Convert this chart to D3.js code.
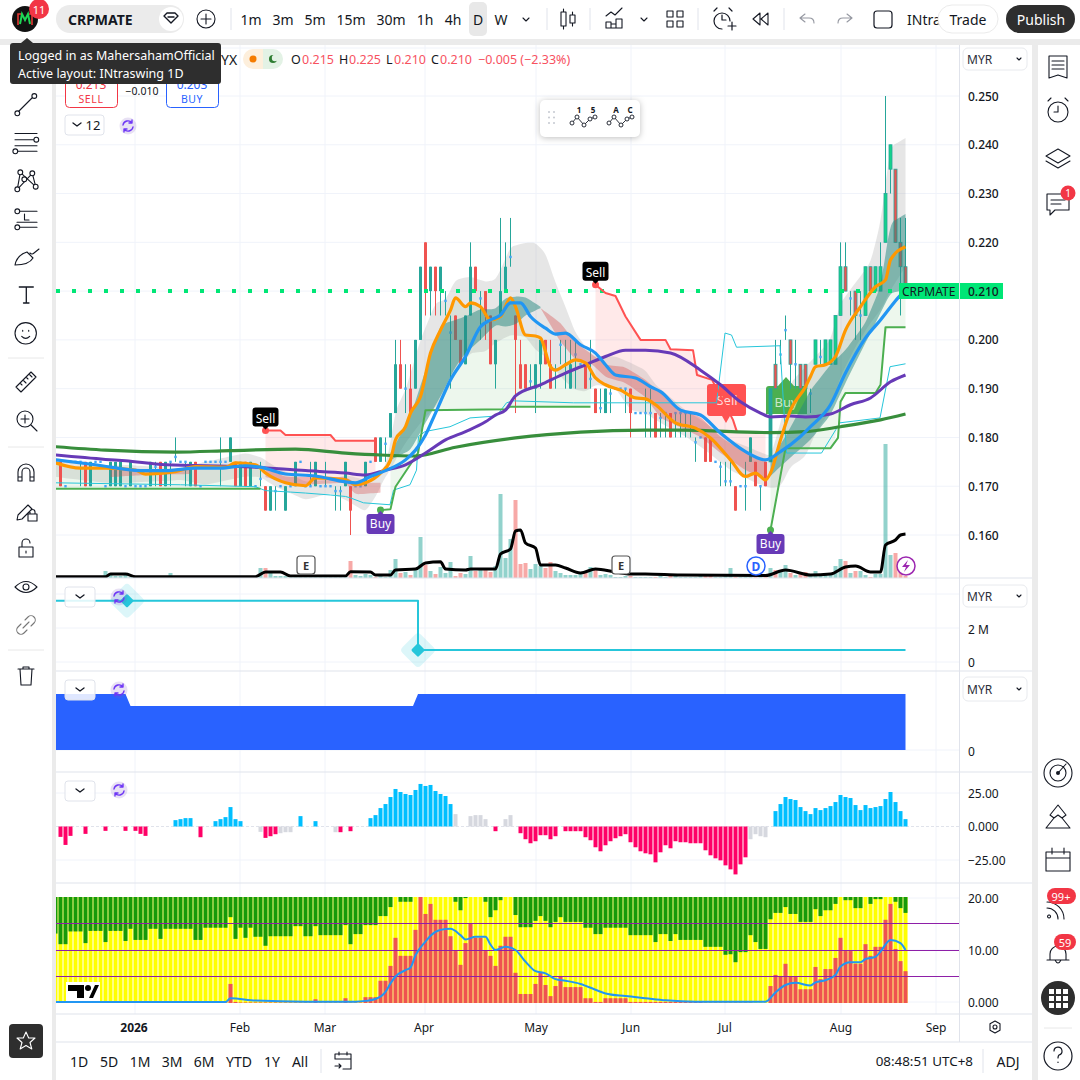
<!DOCTYPE html>
<html lang="en">
<head>
<meta charset="UTF-8">
<title>CRPMATE 1D</title>
<script src="https://d3js.org/d3.v7.min.js"></script>
<style>
  html, body { margin: 0; padding: 0; background: #fff; overflow: hidden; }
  svg { display: block; }
  text { font-family: "Noto Sans", sans-serif; fill: #131722; }
</style>
</head>
<body>
<svg id="chart" width="1080" height="1080"></svg>
<script>
// Candles, in thousandths of a ringgit, one entry per daily bar
const priceOpen = [
  175,175,170,175,175,175,175,170,175,175, 170,170,170,170,170,170,170,170,170,170,
  174,175,170,175,176,175,175,170,175,170, 175,175,175,175,175,175,175,170,175,170,
  170,171.5,170,165,169,170,165,170,170,175, 170,170,170,170,170,170,169,169,170,170,
  170,170,170,175,180,175,178.7,180,185,195, 190,190,190,200,220,210,215,210,208,201.5,
  205,200,195,205,215,208.5,210,205,195,205, 210,217,205,195,195,191.5,190,195,200,195,
  194,199,195,190,197,195,195,192,190,186, 185,189,190,190,190,190,185,185,185,185,
  185,184,185,185,185,185,185,185,179,180, 180,180,175,174,171,171,170,170,170,175,
  175,170,175,175,195,197,202,200,195,195, 195,189,195,196.5,195,195,195,205,215,208.5,
  210,205,205,215,210,210,220,235,235,220,215];
const priceClose = [
  175,170,170,175,175,175,170,175,175,175, 170,175,175,175,170,175,170,170,170,175,
  174,170,175,175,176,175,175,175,170,170, 175,175,175,175,175,180,170,175,170,175,
  170,171.5,165,170,169,170,170,170,175,175, 170,170,175,170,170,170,169,169,175,165,
  170,170,175,175,175,180,178.7,185,195,190, 190,185,200,215,210,215,210,215,208,201.5,
  200,195,205,215,210,208.5,205,195,200,210, 215,217,200,190,190,191.5,195,200,195,190,
  194,199,195,195,197,195,190,192,185,186, 190,189,190,190,190,185,185,185,185,185,
  180,184,185,180,185,185,185,185,179,180, 175,175,175,174,171,171,165,170,170,180,
  170,170,170,190,190,197,202,195,195,190, 190,189,200,196.5,200,200,205,215,210,208.5,
  205,205,215,210,215,215,230,240,220,215,210];
const priceHigh = [
  175,175,170,175,175,175,175,175,175,175, 170,175,175,175,170,175,170,170,170,175,
  175,175,175,175,180,175,175,175,175,170, 175,175,175,180,175,180,175,175,175,175,
  170,175,170,170,170,170,170,170,175,175, 170,175,175,170,175,170,170,170,175,170,
  170,170,175,175,180,180,180,185,200,200, 195,195,200,215,220,215,215,215,210,205,
  205,200,205,220,215,210,210,205,200,225, 220,225,205,200,195,195,195,200,200,200,
  195,200,200,200,200,195,195,200,190,190, 190,190,190,190,190,190,185,185,190,190,
  185,185,185,185,185,185,185,185,180,180, 180,180,175,175,175,175,170,170,175,180,
  175,170,175,190,200,200,205,200,200,195, 195,190,200,200,200,200,205,220,220,210,
  210,210,215,215,215,220,250,240,235,225,225];
const priceLow = [
  175,170,170,175,175,170,170,170,175,175, 170,170,170,170,170,170,170,170,170,170,
  170,170,170,170,175,175,170,170,170,170, 175,175,175,170,175,175,170,170,170,170,
  170,170,165,165,165,170,165,170,170,175, 170,170,170,170,170,170,165,165,170,160,
  170,170,170,175,175,175,175,180,185,190, 185,185,190,200,205,205,205,205,205,190,
  200,195,195,205,210,200,200,195,190,205, 210,215,185,190,190,190,185,190,195,190,
  190,195,190,190,190,195,190,190,185,185, 185,185,190,190,185,180,185,185,180,180,
  180,180,180,180,180,180,180,180,175,180, 175,175,175,170,170,170,165,170,165,175,
  170,165,170,175,190,195,200,190,190,190, 190,185,195,195,195,195,195,205,210,205,
  200,200,205,210,210,210,220,230,220,205,210];

// Volume histogram and its average, in the overlay's own units
const volumeBars = [
  1,1,1,1,1,0,1,1,0,1, 7,4,2,2,3,1,1,1,1,1,
  1,1,1,5,1,1,1,1,1,1, 1,1,1,1,1,1,1,1,1,1,
  1,10,10,6,2,2,2,1,1,1, 1,1,1,1,1,1,1,1,1,17,
  3,2,4,3,1,2,1,8,19,5, 6,3,9,41,13,7,4,11,5,16,
  2,5,4,22,7,8,9,6,12,84, 20,39,78,14,15,9,14,12,10,16,
  7,5,3,3,3,4,5,11,9,3, 4,3,1,1,2,2,1,1,1,1,
  1,2,1,4,2,1,1,1,1,2, 4,3,1,1,3,10,1,1,1,1,
  1,1,1,10,8,6,13,5,3,4, 6,2,7,3,3,4,12,19,17,5,
  7,7,3,1,4,4,134,23,25,14,2];
const volMaBars = [0,10,11,14,16,40,42,45,47,58,59,63,64,67,68,72,74,77,78,82,83,88,89,91,92,93,94,96,97,100,102,105,108,112,115,118,125,142,146,151,155,158,160,163,165,166,168,169,170];
const volMaVals = [1.3,1.3,4,4,1.3,1.3,6,6,2,2,6.3,6,3,3,8,9,15,16.3,9,8,9,9,24,29,47,48,35,30,13,13,10,5,9,6,4,4,3,2.5,8,3,4,11,12,6,6,33,38,43,44];

// Overlay lines on the price pane: bar numbers and prices
const emaLongBars = [0,10,24,35,48,58,65,72,80,92,105,118,125,143,150,157,165,170];
const emaLongVals = [.1781,.1774,.1770,.1773,.1776,.1768,.1764,.1762,.1780,.1799,.1811,.1815,.1815,.1810,.1812,.1822,.1836,.1848];
const emaMidBars = [0,10,14,22,38,50,58,62,66,70,74,78,82,86,88,90,92,97,102,106,110,114,118,123,129,133,137,141,143,147,150,155,159,163,167,170];
const emaMidVals = [.1764,.1755,.1752,.1744,.1740,.1732,.1727,.1723,.1733,.1744,.1768,.1795,.1812,.1832,.1846,.1856,.1885,.1908,.1932,.1949,.1966,.1979,.1979,.1973,.1938,.1908,.1873,.1850,.1842,.1844,.1842,.1848,.1867,.1881,.1914,.1928];
const blueBars = [0,8,17,22,28,33,38,41,46,52,58,60,63,66,70,72,74,76,79,82,85,87,89,91,93,95,98,100,102,105,108,110,112,116,119,121,125,129,133,138,142,145,149,151,155,158,162,165,169,170];
const blueVals = [.1754,.1744,.1732,.1732,.1737,.1737,.1742,.1739,.1725,.1721,.1709,.1707,.1720,.1732,.1754,.1774,.1805,.1850,.1918,.1966,.2027,.2041,.2051,.2076,.2076,.2048,.2024,.2012,.2014,.1990,.1973,.1949,.1928,.1922,.1904,.1894,.1856,.1846,.1809,.1771,.1754,.1771,.1802,.1822,.1867,.1932,.2004,.2041,.2092,.2102];
const orangeBars = [0,5,10,16,18,24,28,34,36,40,42,46,50,52,58,60,62,65,67,68,70,71,73,75,77,79,80,82,83,85,87,89,91,92,94,96,97,99,100,102,104,106,108,110,113,116,118,120,124,128,131,135,138,140,142,143,145,147,150,151,152,154,156,158,161,164,166,167,170];
const orangeVals = [.1748,.1737,.1737,.1733,.1725,.1730,.1740,.1739,.1748,.1744,.1727,.1707,.1701,.1717,.1713,.1703,.1707,.1727,.1754,.1795,.1822,.1850,.1884,.1973,.2020,.2061,.2086,.2068,.2076,.2068,.2041,.2048,.2086,.2068,.2010,.2008,.2004,.1945,.1938,.1949,.1959,.1953,.1922,.1908,.1897,.1881,.1879,.1867,.1830,.1819,.1799,.1754,.1720,.1727,.1713,.1727,.1795,.1856,.1904,.1925,.1945,.1949,.1966,.2020,.2068,.2109,.2123,.2164,.2191];
const thinBars = [0,25,40,42,47,50,55,58,59,61.6,66.9,67.6,70.9,72.2,72.6,73.9,78.9,82.9,88.2,90.2,91.6,103.6,132.2,133.9,135.2,136.2,144.9,146.2,153.2,156.9,164.9,166.9,170];
const thinVals = [.1707,.1703,.1699,.1691,.1688,.1686,.1682,.1679,.1676,.1666,.1662,.1692,.1703,.1733,.1802,.1812,.1822,.1840,.1844,.1871,.1875,.1871,.1871,.2014,.2010,.1985,.1988,.1768,.1768,.1830,.1840,.1945,.1951];

// Stepped stop lines
const supportABars = [0,41], supportAVals = [.1695,.1695];
const supportBBars = [65,67,68,72.5,74,90,91,107];
const supportBVals = [.1651,.1653,.1699,.1768,.1856,.1858,.1863,.1863];
const supportCBars = [143,146,155,156.5,157,158,164,165,166,170];
const supportCVals = [.1610,.1778,.1778,.1799,.1873,.1891,.1891,.1908,.2026,.2026];
const resistABars = [42,45,46,55,56,64];
const resistAVals = [.1814,.1814,.1805,.1805,.1793,.1793];
const resistBBars = [108,110,112,114,117,122,123,127.5,128.3,131.3,135.5,136.3,142.5];
const resistBVals = [.2113,.2096,.2090,.2048,.2000,.2000,.1981,.1979,.1928,.1918,.1836,.1811,.1811];

// Grey envelope
const envUpBars = [0,10,14,25,30,38,41,44,50,55,58,62,64,66,67,68,70,73,76,78,80,83,86,88,89,91,94,96,98,100,102,104,106,108,112,115,118,120,126,130,135,140,143,145,147,150,152,155,157,160,163,165,167,170];
const envUpVals = [.1758,.1740,.1744,.1737,.1750,.1768,.1760,.1740,.1709,.1713,.1723,.1713,.1721,.1740,.1789,.1856,.1897,.2000,.2076,.2082,.2123,.2130,.2119,.2123,.2143,.2191,.2199,.2199,.2178,.2117,.2068,.2014,.1986,.1966,.1966,.1953,.1938,.1908,.1856,.1830,.1795,.1774,.1761,.1830,.1912,.1945,.1966,.2000,.2076,.2117,.2158,.2240,.2396,.2414];
const envLowBars = [0,10,14,25,30,38,41,44,50,55,58,62,64,66,67,68,70,73,76,78,80,83,86,88,91,94,96,98,100,102,104,106,108,112,115,118,120,126,130,135,140,143,145,147,150,152,155,157,160,163,165,167,170];
const envLowVals = [.1719,.1707,.1707,.1713,.1703,.1720,.1719,.1699,.1672,.1686,.1672,.1648,.1678,.1720,.1733,.1754,.1789,.1830,.1863,.1887,.1932,.1973,.1976,.1994,.2010,.2007,.1979,.1966,.1938,.1914,.1897,.1894,.1908,.1901,.1856,.1850,.1836,.1802,.1774,.1733,.1707,.1696,.1699,.1740,.1761,.1809,.1856,.1925,.1986,.2035,.2061,.2102,.2150];

// Trend clouds
const tealABars = [67,71,74,77,80,82,85,88,90,92,94,97];
const tealAUp = [.1768,.1843,.1938,.2031,.2041,.2048,.2063,.2063,.2086,.2089,.2088,.2068];
const tealALow = [.1754,.1774,.1830,.1884,.1945,.1973,.2000,.2031,.2027,.2031,.2051,.2065];
const tealBBars = [143,146,151,155,158,162,165,167,170];
const tealBUp = [.1754,.1802,.1897,.1949,.1979,.2035,.2109,.2240,.2258];
const tealBLow = [.1721,.1750,.1795,.1846,.1912,.1994,.2055,.2096,.2102];
const redABars = [11,18,27];
const redAUp = [.1737,.1733,.1735], redALow = [.1719,.1723,.1725];
const redBBars = [42,46,50,58,60,65];
const redBUp = [.1737,.1719,.1719,.1719,.1707,.1707];
const redBLow = [.1719,.1707,.1703,.1707,.1683,.1687];
const redCBars = [97,101,104,107,110,114,118,121,125,129,133,138,142];
const redCUp = [.2065,.2035,.1994,.1973,.1949,.1944,.1918,.1891,.1856,.1842,.1801,.1768,.1754];
const redCLow = [.2065,.1996,.1959,.1953,.1924,.1912,.1883,.1840,.1821,.1801,.1768,.1733,.1713];

// Pane 2 and 3 step values
const stepBars = [0,72.5,72.5,170], stepVals = [3.6,3.6,0.7,0.7];
const stepDiamonds = [14.3,72.5], stepDiamondVals = [3.6,0.7];
const blueAreaBars = [0,14,15,71.5,72.5,170], blueAreaVals = [56,56,44,44,56,56];

// Momentum histogram
const momentum = [
  0,-7.75,-13.75,-7,0,0,-5.5,0,0,0, -3.25,0,0,0,-3.25,0,-3.25,-5.5,-7,0,
  0,0,0,0,4.75,5.5,6.25,6.25,0,-8, 0,0,4,5.5,7,14.5,5.5,4,0,0,
  0,-4,-8.5,-7.25,-5.75,-5,-4.25,-4.25,0,7.75, 0,0,4,0,0,0,-4.25,-4.25,0,-3.5,
  0,0,0,6.25,8.5,13.75,16.75,22,28,25.75, 24.25,23.5,27.25,31.75,30.25,31,26.5,24.25,22.75,16.75,
  9.25,0,0,7.75,8.5,8.5,5.5,0,-3.5,0, 5.5,8.5,0,-5,-9.5,-12.5,-11,-6.5,-6.5,-9.5,
  -7.25,0,-3.5,-3.5,-3.5,-3.5,-8,-10.25,-15.5,-18.5, -14,-11,-8.75,-7.25,-5.75,-11.75,-15.5,-18.5,-20,-20.75,
  -26.75,-19.25,-14,-16.25,-11,-11.75,-11.75,-12.5,-12.5,-12.5, -17.75,-21.5,-23.75,-25.25,-29,-32,-35.75,-28.25,-23,-9.5,
  -5.75,-7.25,-8,0,11.5,16.75,22,20.5,19.75,14.5, 11.5,9.25,13.75,12.25,13.75,15.25,18.25,23.5,22,21.25,
  16,12.25,16,13.75,14.5,15.25,20.5,25.75,18.25,11.5,5.5];
const momentumGrey = [41,45,46,47,56,80,83,84,85,86,90,91,139,140,141,142];

// Bottom pane: green reaches down to greenLevel, red reaches up to redLevel
const greenLevel = [
  13.1,11.1,11.1,13.5,13.5,13.5,11.3,13.6,13.6,13.6, 11.5,13.6,13.6,13.6,11.7,14,11.9,11.9,11.9,14,
  14,12.1,14,14,14,14,14,14,11.9,11.9, 14.2,14.2,14.2,14.2,14.2,16.2,12.1,14.2,12.3,14.2,
  12.5,12.5,10.8,12.6,12.6,12.6,12.6,12.6,14.5,14.5, 12.6,12.6,14.5,12.8,12.8,12.8,12.8,12.8,14.7,11.1,
  13,13,14.7,14.7,14.7,16.4,16.4,18.1,20,19.1, 19.1,19.1,20,20,20,20,20,20,20,20,
  19.1,17.5,19.8,20,20,20,19.1,16.2,17.5,19.4, 20,20,16.6,14.3,14.3,14.3,15.5,16.4,15.5,14.3,
  15.3,16.2,15.3,15.3,15.3,15.3,14.2,14.2,13,13, 14.2,14.2,14.2,14.2,14.2,12.8,12.8,12.8,12.8,12.8,
  11.5,13,13,11.7,13,11.9,11.9,11.9,11.9,11.9, 10.6,10.6,10.6,10.6,9.1,9.2,7.7,9.6,9.6,12.8,
  11.5,10.2,10.2,15.8,17,17,18.1,16.8,16.8,15.3, 15.3,15.3,17.7,16.4,17.5,17.5,18.7,20,19.4,19.4,
  17.9,17.9,20,18.7,19.6,19.6,20,20,19.1,17.9,17];
const redLevel = [
  .1,.1,.1,.1,.1,.1,.1,.1,.1,.1, .1,.1,.1,.1,.1,.1,.1,.1,.1,.1,
  .1,.1,.1,.1,.1,.1,.1,.1,.1,.1, .1,.1,.1,.1,.1,3.6,.2,.1,.1,.1,
  .1,.1,.1,.1,.1,.1,.1,.1,.1,.1, .1,.1,.7,.1,.1,.1,.1,.1,.9,.1,
  .1,.1,1.1,1.1,1.1,4.2,4.2,7,12.3,8.9, 8.9,8.9,13.8,20,16.8,18.7,15.7,15.7,15.7,12.6,
  9.8,7.2,11.3,14.9,12.3,12.3,9.8,8.9,7,10.8, 12.5,12.5,5.7,1.7,1.7,1.7,3.6,5.7,3.4,1.3,
  3.2,5.1,3,3,3,3,.9,.9,.2,.2, .9,.9,.9,.9,.9,.2,.2,.2,.2,.2,
  .2,.2,.2,.2,.2,.2,.2,.2,.2,.2, .1,.1,.1,.1,.1,.1,.1,.1,.1,.1,
  0,0,0,3.2,5.3,5.1,7.4,4.9,4.9,2.6, 2.6,2.6,6.8,4.5,6.4,6.4,8.5,12.3,9.8,9.8,
  7.4,7.4,11.1,8.9,10.6,10.6,15.7,18.7,10.2,7.9,6];
const flowBars = [0,34,35,40,50,60,62,64,66,67,68,70,71,72,74,75,77,79,81,82,84,86,87,88,90,92,94,96,98,100,102,105,108,110,114,118,122,128,142,144,146,148,151,152,154,156,157,159,161,162,164,165,167,169,170];
const flowVals = [.2,.2,.9,.45,.25,.25,.4,.75,2.1,3.7,5,6.2,6.7,9,11.6,12.7,13.8,14,12.8,12,12.5,12.5,11,10,10.6,10,7.8,6,5.6,4.5,4.2,3.6,2.5,1.8,1.3,.9,.5,.25,.25,2,3.4,3.8,3.3,3.9,4.3,5.3,6.9,7.7,7.7,8.3,8.7,9.7,11.9,11.3,10];

// Axis ticks and date labels
const priceTicks = [.25,.24,.23,.22,.21,.20,.19,.18,.17,.16];
const monthLabels = ['2026','Feb','Mar','Apr','May','Jun','Jul','Aug','Sep'];
const monthX = [134,240,325,424,536,631,725,841,936];
const intervalLabels = ['1m','3m','5m','15m','30m','1h','4h','D','W'];
const intervalX = [251,283,315,351,391,425,453,478,501];
const rangeLabels = ['1D','5D','1M','3M','6M','YTD','1Y','All'];
const rangeX = [79,109,140,172,204,239,272,300];

const svg = d3.select('#chart');
const defs = svg.append('defs');
const x = d3.scaleLinear().domain([0, 170]).range([55.5, 905.5]);
const y = d3.scaleLinear().domain([.25, .16]).range([96, 535]);
const yVol = d3.scaleLinear().domain([0, 150]).range([578, 428]);
const yStep = d3.scaleLinear().domain([0, 2]).range([662, 628]);
const yArea = d3.scaleLinear().domain([0, 56]).range([750, 694]);
const yMom = d3.scaleLinear().domain([25, -25]).range([793, 860]);
const yFlow = d3.scaleLinear().domain([0, 20]).range([1003, 897]);
const bars = d3.range(171);

// panes are clipped to the plot rectangle
function pane(id, top, bottom) {
  defs.append('clipPath').attr('id', id).append('rect')
    .attr('x', 56).attr('y', top).attr('width', 903).attr('height', bottom - top);
  return svg.append('g').attr('clip-path', `url(#${id})`);
}
const lerp = (idx, vals) => d3.scaleLinear().domain(idx).range(vals);
function band(g, from, to, upper, lower, color, opacity) {
  g.append('path').datum(d3.range(from, to + 1))
    .attr('d', d3.area().x(i => x(i)).y0(i => y(lower(i))).y1(i => y(upper(i))).curve(d3.curveBasis))
    .attr('fill', color).attr('opacity', opacity);
}
function plotLine(g, idx, vals, scale, color, width, curve) {
  g.append('path').datum(idx)
    .attr('d', d3.line().x(d => x(d)).y((d, k) => scale(vals[k])).curve(curve || d3.curveLinear))
    .attr('fill', 'none').attr('stroke', color).attr('stroke-width', width)
    .attr('stroke-linejoin', 'round');
}
function label(txt, px, py, size, anchor, color, weight, parent) {
  return (parent || svg).append('text').attr('x', px).attr('y', py)
    .attr('font-size', size).attr('text-anchor', anchor || 'start')
    .attr('dominant-baseline', 'central').attr('font-weight', weight || 400)
    .style('fill', color || '#131722').text(txt);
}
function icon(px, py, d, opts) {
  opts = opts || {};
  svg.append('path').attr('transform', `translate(${px},${py})`).attr('d', d)
    .attr('fill', opts.fill || 'none').attr('stroke', opts.stroke || '#131722')
    .attr('stroke-width', opts.width || 1.1).attr('stroke-linecap', 'round').attr('stroke-linejoin', 'round');
}
function node(px, py) {
  svg.append('circle').attr('cx', px).attr('cy', py).attr('r', 2.4)
    .attr('fill', '#fff').attr('stroke', '#131722').attr('stroke-width', 1.1);
}

// ---- backgrounds and grids
svg.append('rect').attr('width', 1080).attr('height', 1080).attr('fill', '#fff');
const gridY = [48].concat(priceTicks.map(y), [594, 628, 662, 750, 793, 860, 898, 950, 1002]);
svg.append('g').selectAll('line').data(gridY).join('line')
  .attr('x1', 56).attr('x2', 959).attr('y1', d => d).attr('y2', d => d)
  .attr('stroke', '#f0f3fa').attr('stroke-width', 1);
svg.append('g').selectAll('line').data([135,240,325,425,536,631,725,841,936]).join('line')
  .attr('x1', d => d).attr('x2', d => d).attr('y1', 45).attr('y2', 1014)
  .attr('stroke', '#f0f3fa').attr('stroke-width', 1);

// ---- price pane
const main = pane('clipMain', 45, 578);
const orangeAt = lerp(orangeBars, orangeVals);
const supportAAt = lerp(supportABars, supportAVals);
const supportBAt = lerp(supportBBars, supportBVals);
const supportCAt = lerp(supportCBars, supportCVals);
band(main, 0, 41, orangeAt, supportAAt, '#4caf50', .1);
band(main, 67, 107, orangeAt, supportBAt, '#4caf50', .1);
band(main, 143, 170, orangeAt, supportCAt, '#4caf50', .1);
const resistAAt = lerp(resistABars, resistAVals);
const resistBAt = lerp(resistBBars, resistBVals);
band(main, 42, 64, resistAAt, orangeAt, '#ff5252', .13);
band(main, 108, 142, resistBAt, orangeAt, '#ff5252', .13);
band(main, 0, 170, lerp(envUpBars, envUpVals), lerp(envLowBars, envLowVals), '#9e9e9e', .26);

main.append('g').selectAll('rect').data(bars).join('rect')
  .attr('x', i => x(i) - 2).attr('width', 4)
  .attr('y', i => yVol(volumeBars[i]))
  .attr('height', i => yVol(0) - yVol(volumeBars[i]))
  .attr('fill', i => priceClose[i] < priceOpen[i] ? '#ef5350' : '#26a69a')
  .attr('opacity', .5);

// large signal flags sit under the candles and lines
main.append('path').attr('d', 'M707 387q0 -3 3 -3h33q3 0 3 3v26q0 3 -3 3h-13l-4 7l-4 -7h-12q-3 0 -3 -3z').attr('fill', '#ff5252');
label('Sell', 727, 400, 13, 'middle', '#ffd9d9', 400, main);
main.append('path').attr('d', 'M766 389q0 -3 3 -3h9l8 -9l8 9h10q3 0 3 3v25h-41z').attr('fill', '#4caf50');
label('Buy', 786, 402, 13, 'middle', '#c9e8cb', 400, main);

const upColor = '#26a69a', downColor = '#ef5350', dojiColor = '#42a5f5';
const candles = main.append('g');
candles.selectAll('line').data(bars.filter(i => priceHigh[i] > priceLow[i])).join('line')
  .attr('x1', i => x(i)).attr('x2', i => x(i))
  .attr('y1', i => y(priceHigh[i] / 1000)).attr('y2', i => y(priceLow[i] / 1000))
  .attr('stroke', i => (i < 143 && priceClose[i] < priceOpen[i]) ? downColor : upColor);
candles.selectAll('rect.body').data(bars.filter(i => priceClose[i] !== priceOpen[i])).join('rect')
  .attr('class', 'body').attr('x', i => x(i) - 1.5).attr('width', 3)
  .attr('y', i => y(Math.max(priceOpen[i], priceClose[i]) / 1000))
  .attr('height', i => Math.abs(y(priceOpen[i] / 1000) - y(priceClose[i] / 1000)))
  .attr('fill', i => priceClose[i] < priceOpen[i] ? downColor : (i >= 144 ? '#14d28a' : upColor))
  .attr('stroke', i => i >= 143 ? upColor : 'none')
  .attr('stroke-width', .8);
candles.selectAll('rect.doji').data(bars.filter(i => priceClose[i] === priceOpen[i])).join('rect')
  .attr('class', 'doji').attr('x', i => x(i) - 1.2).attr('width', 2.4).attr('height', 2.4)
  .attr('y', i => y(priceOpen[i] / 1000) - 1.2).attr('fill', dojiColor);

band(main, 67, 97, lerp(tealABars, tealAUp), lerp(tealABars, tealALow), '#26877f', .5);
band(main, 143, 170, lerp(tealBBars, tealBUp), lerp(tealBBars, tealBLow), '#26877f', .5);
band(main, 11, 27, lerp(redABars, redAUp), lerp(redABars, redALow), '#d85050', .35);
band(main, 42, 65, lerp(redBBars, redBUp), lerp(redBBars, redBLow), '#d85050', .35);
band(main, 97, 142, lerp(redCBars, redCUp), lerp(redCBars, redCLow), '#d85050', .38);

// dotted last-price line
main.append('line').attr('x1', 56).attr('x2', 959).attr('y1', y(.21)).attr('y2', y(.21))
  .attr('stroke', '#00e676').attr('stroke-width', 4).attr('stroke-dasharray', '4 12');

plotLine(main, thinBars, thinVals, y, '#26c6da', 1);
plotLine(main, supportABars, supportAVals, y, '#4caf50', 2);
plotLine(main, supportBBars, supportBVals, y, '#4caf50', 2);
plotLine(main, supportCBars, supportCVals, y, '#4caf50', 2);
plotLine(main, resistABars, resistAVals, y, '#ff5252', 2);
plotLine(main, resistBBars, resistBVals, y, '#ff5252', 2);
plotLine(main, emaLongBars, emaLongVals, y, '#388e3c', 3.2, d3.curveMonotoneX);
plotLine(main, emaMidBars, emaMidVals, y, '#673ab7', 3, d3.curveMonotoneX);
plotLine(main, orangeBars, orangeVals, y, '#ff9800', 3.2, d3.curveMonotoneX);
plotLine(main, blueBars, blueVals, y, '#2196f3', 3.2, d3.curveMonotoneX);
plotLine(main, volMaBars, volMaVals, yVol, '#000', 3, d3.curveMonotoneX);

// signal markers
const sellBars = [42, 108], sellVals = [.1814, .2113];
const buyBars = [65, 143], buyVals = [.1651, .1610];
sellBars.forEach((b, k) => {
  const px = x(b), py = y(sellVals[k]);
  main.append('circle').attr('cx', px).attr('cy', py).attr('r', 3.5).attr('fill', '#ff5252');
  main.append('path').attr('d', `M${px - 13} ${py - 20}q0 -3 3 -3h20q3 0 3 3v13q0 3 -3 3h-7l-3 3l-3 -3h-7q-3 0 -3 -3z`).attr('fill', '#000');
  label('Sell', px, py - 12, 12, 'middle', '#fff', 400, main);
});
buyBars.forEach((b, k) => {
  const px = x(b), py = y(buyVals[k]);
  main.append('circle').attr('cx', px).attr('cy', py).attr('r', 3.5).attr('fill', '#4caf50');
  main.append('path').attr('d', `M${px - 14} ${py + 7}q0 -3 3 -3h8l3 -3l3 3h8q3 0 3 3v14q0 3 -3 3h-22q-3 0 -3 -3z`).attr('fill', '#673ab7');
  label('Buy', px, py + 13, 12, 'middle', '#fff', 400, main);
});

// earnings / dividend / lightning badges
[[306, 'E'], [621, 'E']].forEach(([px, t]) => {
  svg.append('rect').attr('x', px - 9).attr('y', 556).attr('width', 18).attr('height', 18).attr('rx', 3)
    .attr('fill', '#fff').attr('stroke', '#555').attr('stroke-width', 1.2);
  label(t, px, 565, 11, 'middle', '#333', 700);
});
svg.append('circle').attr('cx', 756).attr('cy', 566).attr('r', 9).attr('fill', '#fff').attr('stroke', '#2962ff').attr('stroke-width', 1.5);
label('D', 756, 566, 12, 'middle', '#2962ff', 700);
svg.append('circle').attr('cx', 906).attr('cy', 566).attr('r', 9).attr('fill', '#fff').attr('stroke', '#9c27b0').attr('stroke-width', 1.5);
svg.append('path').attr('d', 'M908 560l-6 7h4l-2 5l6 -7h-4z').attr('fill', '#9c27b0');

// ---- step pane
const stepPane = pane('clipStep', 579, 670);
plotLine(stepPane, stepBars, stepVals, yStep, '#26c6da', 2);
stepDiamonds.forEach((b, k) => {
  const px = x(b), py = yStep(stepDiamondVals[k]);
  stepPane.append('rect').attr('x', px - 13).attr('y', py - 13).attr('width', 26).attr('height', 26).attr('rx', 4)
    .attr('transform', `rotate(45 ${px} ${py})`).attr('fill', '#26c6da').attr('opacity', .16);
  stepPane.append('rect').attr('x', px - 5).attr('y', py - 5).attr('width', 10).attr('height', 10).attr('rx', 1.5)
    .attr('transform', `rotate(45 ${px} ${py})`).attr('fill', '#26c6da');
});

// ---- blue area pane
const areaPane = pane('clipArea', 671, 772);
areaPane.append('path').datum(blueAreaBars)
  .attr('d', d3.area().x(d => x(d)).y0(yArea(0)).y1((d, k) => yArea(blueAreaVals[k])))
  .attr('fill', '#2962ff');

// ---- momentum pane
const momPane = pane('clipMom', 773, 883);
momPane.append('line').attr('x1', 56).attr('x2', 959).attr('y1', yMom(0)).attr('y2', yMom(0))
  .attr('stroke', '#e0e3eb').attr('stroke-dasharray', '3 2');
momPane.append('g').selectAll('rect').data(bars.filter(i => momentum[i] !== 0)).join('rect')
  .attr('x', i => x(i) - 2).attr('width', 4)
  .attr('y', i => Math.min(yMom(0), yMom(momentum[i])))
  .attr('height', i => Math.abs(yMom(momentum[i]) - yMom(0)))
  .attr('fill', i => momentumGrey.includes(i) ? '#d6d8df' : (momentum[i] > 0 ? '#00bfff' : '#ff0066'));

// ---- bottom stacked pane
const flowPane = pane('clipFlow', 884, 1014);
const flowBarsG = flowPane.append('g');
flowBarsG.selectAll('rect.y').data(bars).join('rect').attr('class', 'y')
  .attr('x', i => x(i) - 2).attr('width', 4)
  .attr('y', yFlow(20)).attr('height', yFlow(0) - yFlow(20)).attr('fill', '#ffff00');
flowBarsG.selectAll('rect.g').data(bars).join('rect').attr('class', 'g')
  .attr('x', i => x(i) - 2).attr('width', 4)
  .attr('y', yFlow(20)).attr('height', i => yFlow(greenLevel[i]) - yFlow(20)).attr('fill', '#169a09');
flowBarsG.selectAll('rect.r').data(bars).join('rect').attr('class', 'r')
  .attr('x', i => x(i) - 2).attr('width', 4)
  .attr('y', i => yFlow(redLevel[i])).attr('height', i => yFlow(0) - yFlow(redLevel[i])).attr('fill', '#ef5350');
flowPane.append('g').selectAll('line').data([15, 10, 5]).join('line')
  .attr('x1', 56).attr('x2', 959)
  .attr('y1', d => Math.floor(yFlow(d)) + .5).attr('y2', d => Math.floor(yFlow(d)) + .5)
  .attr('stroke', '#8e1fa8').attr('stroke-width', 1);
plotLine(flowPane, flowBars, flowVals, yFlow, '#2196f3', 2, d3.curveMonotoneX);
// TradingView mark
svg.append('rect').attr('x', 66).attr('y', 982).attr('width', 34).attr('height', 19).attr('fill', '#fff');
svg.append('path').attr('d', 'M68 985h16v13h-7v-7h-9z M89 998l6 -13h4l-6 13z').attr('fill', '#000');
svg.append('circle').attr('cx', 88).attr('cy', 988).attr('r', 3).attr('fill', '#000');

// ---- price scale and labels
svg.append('rect').attr('x', 960).attr('y', 45).attr('width', 72).attr('height', 970).attr('fill', '#fff');
priceTicks.forEach(t => label(t.toFixed(3), 968, y(t), 12, 'start', '#131722', 500));
[[ '2 M', 629 ], ['0', 662], ['0', 751], ['25.00', 793], ['0.000', 826], ['\u221225.00', 860], ['20.00', 898], ['10.00', 950], ['0.000', 1002]]
  .forEach(d => label(d[0], 968, d[1], 12, 'start', '#131722', 400));
[[48, 70], [585, 607], [677, 701]].forEach(([a, b]) => {
  svg.append('rect').attr('x', 963).attr('y', a).attr('width', 64).attr('height', b - a).attr('rx', 5)
    .attr('fill', '#fff').attr('stroke', '#e8eaee');
  label('MYR', 967, (a + b) / 2 + 0.5, 12, 'start', '#2a2e39');
  icon(1019, (a + b) / 2, 'M-2 -1l2 2l2 -2');
});
svg.append('rect').attr('x', 899).attr('y', 283).attr('width', 61).attr('height', 16).attr('fill', '#00e676');
label('CRPMATE', 902, 291, 12, 'start', '#131722');
svg.append('rect').attr('x', 960).attr('y', 283).attr('width', 43).attr('height', 16).attr('fill', '#00e676');
label('0.210', 968, 291, 12, 'start', '#131722', 500);

// ---- chrome: gutters, pane separators
[[0, 39, 1080, 6], [52, 39, 4, 1041], [1032, 39, 6, 1041]].forEach(r =>
  svg.append('rect').attr('x', r[0]).attr('y', r[1]).attr('width', r[2]).attr('height', r[3]).attr('fill', '#ebebeb'));
[578, 671, 772, 883, 1014, 1042].forEach(py =>
  svg.append('line').attr('x1', 56).attr('x2', 1032).attr('y1', py).attr('y2', py).attr('stroke', '#e0e3eb').attr('stroke-width', 1.2));
svg.append('line').attr('x1', 959.5).attr('x2', 959.5).attr('y1', 45).attr('y2', 1042).attr('stroke', '#e0e3eb');

// ---- time axis and bottom bar
monthLabels.forEach((m, k) => label(m, monthX[k], 1027, 12, 'middle', '#131722', k === 0 ? 700 : 400));
icon(995, 1027, 'M0 -6l5 2.8v6.4l-5 2.8l-5 -2.8v-6.4z M2 0a2 2 0 1 0 -4 0a2 2 0 1 0 4 0');
rangeLabels.forEach((m, k) => label(m, rangeX[k], 1061, 14, 'middle', '#131722'));
label('08:48:51 UTC+8', 973, 1061, 13.4, 'end', '#131722');
label('ADJ', 1008, 1061, 14, 'middle', '#131722');
[[321, 1049, 1073], [983, 1049, 1073]].forEach(l =>
  svg.append('line').attr('x1', l[0]).attr('x2', l[0]).attr('y1', l[1]).attr('y2', l[2]).attr('stroke', '#e0e3eb'));
icon(343, 1061, 'M-8 -7h16v15h-8 M-8 -7v5h16 M-4 -9v3 M4 -9v3 M-8 5h6 M-4 3l2 2l-2 2');

// ---- top toolbar
svg.append('circle').attr('cx', 25).attr('cy', 19).attr('r', 13).attr('fill', '#111');
svg.append('path').attr('d', 'M18 25v-11l3 0 M32 25v-11l-3 0').attr('stroke', '#e53935').attr('stroke-width', 1.6).attr('fill', 'none');
svg.append('path').attr('d', 'M20 24l2 -10l3 6l3 -6l2 10').attr('stroke', '#1fd655').attr('stroke-width', 2).attr('fill', 'none');
svg.append('circle').attr('cx', 39).attr('cy', 9).attr('r', 10).attr('fill', '#f23645');
label('11', 39, 9, 11, 'middle', '#fff');
svg.append('rect').attr('x', 56).attr('y', 5).attr('width', 128).attr('height', 28).attr('rx', 14).attr('fill', '#ebebeb');
label('CRPMATE', 68, 19, 14, 'start', '#131722', 700);
svg.append('circle').attr('cx', 171).attr('cy', 19).attr('r', 12).attr('fill', '#fff');
icon(171, 19, 'M-7 -3l3 -3h8l3 3l-7 7z M-3 -2h6', { width: 1.4 });
svg.append('circle').attr('cx', 206).attr('cy', 19).attr('r', 9).attr('fill', 'none').attr('stroke', '#131722').attr('stroke-width', 1.1);
icon(206, 19, 'M-5 0h10M0 -5v10');
[231, 547, 590, 698, 784].forEach(px =>
  svg.append('line').attr('x1', px).attr('x2', px).attr('y1', 8).attr('y2', 30).attr('stroke', '#e0e3eb'));
svg.append('rect').attr('x', 469).attr('y', 2).attr('width', 18).attr('height', 34).attr('rx', 5).attr('fill', '#e8e8e8');
intervalLabels.forEach((m, k) => label(m, intervalX[k], 19, 14, 'middle', '#131722'));
icon(526, 19, 'M-3 -1l3 3l3 -3');
icon(568, 19, 'M-7 -7h5v14h-5z M-4.5 -10v3 M-4.5 7v3 M2 -4h5v8h-5z M4.5 -7v3 M4.5 4v3');
icon(614, 19, 'M-8 9v-6h5v6 M-3 9v-4h5v4 M2 9v-9h6v9 M-8 9h16 M-8 -3l5 -4l4 3l7 -7');
icon(644, 19, 'M-3 -1l3 3l3 -3');
icon(675, 19, 'M-8 -8h6v6h-6z M2 -8h6v6h-6z M-8 2h6v6h-6z M2 2h6v6h-6z');
icon(723, 19, 'M7 2a8 8 0 1 0 -8 8 M-1 -4v5h4 M-9 -8l3 -3 M9 -8l-3 -3 M5 7h8 M9 3v8', { width: 1.2 });
icon(760, 19, 'M0 -6l-7 6l7 6z M8 -6l-7 6l7 6z');
icon(807, 19, 'M-2 -5l-5 4l5 4 M-7 -1h9q5 0 5 5', { stroke: '#9598a1' });
icon(845, 19, 'M2 -5l5 4l-5 4 M7 -1h-9q-5 0 -5 5', { stroke: '#9598a1' });
svg.append('rect').attr('x', 874).attr('y', 11).attr('width', 18).attr('height', 17).attr('rx', 3).attr('fill', 'none').attr('stroke', '#131722').attr('stroke-width', 1.2);
label('INtra', 907, 19, 14, 'start', '#131722');
svg.append('rect').attr('x', 938).attr('y', 5).attr('width', 60).attr('height', 28).attr('rx', 14).attr('fill', '#fff').attr('stroke', '#ebebeb');
label('Trade', 968, 19, 14, 'middle', '#131722');
svg.append('rect').attr('x', 1006).attr('y', 5).attr('width', 69).attr('height', 28).attr('rx', 14).attr('fill', '#2e2e2e');
label('Publish', 1041, 19, 14, 'middle', '#fff');

// ---- legend row
label('YX', 221, 59, 14, 'start', '#131722');
svg.append('path').attr('d', 'M263 49h-10a10 10 0 0 0 0 20h10z').attr('fill', '#fdefdc');
svg.append('path').attr('d', 'M263 49h10a10 10 0 0 1 0 20h-10z').attr('fill', '#e3f2e5');
svg.append('circle').attr('cx', 253).attr('cy', 59).attr('r', 3.5).attr('fill', '#f57c00');
svg.append('circle').attr('cx', 273).attr('cy', 59).attr('r', 4).attr('fill', '#2e7d32');
svg.append('circle').attr('cx', 275).attr('cy', 58).attr('r', 3.2).attr('fill', '#e3f2e5');
const legendParts = [['O', '#131722', 291], ['0.215', '#f7525f', 302], ['H', '#131722', 339], ['0.225', '#f7525f', 349], ['L', '#131722', 386], ['0.210', '#f7525f', 394], ['C', '#131722', 431], ['0.210', '#f7525f', 440]];
legendParts.forEach(p => label(p[0], p[2], 59, 12.5, 'start', p[1]));
label('\u22120.005 (\u22122.33%)', 478, 59, 12.5, 'start', '#f7525f');

// ---- buy/sell buttons and pane controls
svg.append('rect').attr('x', 65.5).attr('y', 78).attr('width', 52).attr('height', 29.5).attr('rx', 4).attr('fill', '#fff').attr('stroke', '#f23645');
label('0.213', 91, 84, 12, 'middle', '#f23645');
label('SELL', 91, 98.5, 10.5, 'middle', '#f23645').attr('letter-spacing', .6);
label('\u22120.010', 142, 91, 10.5, 'middle', '#131722');
svg.append('rect').attr('x', 166.5).attr('y', 78).attr('width', 52).attr('height', 29.5).attr('rx', 4).attr('fill', '#fff').attr('stroke', '#2962ff');
label('0.203', 192, 84, 12, 'middle', '#2962ff');
label('BUY', 192, 98.5, 10.5, 'middle', '#2962ff').attr('letter-spacing', .6);

function syncIcon(px, py) {
  svg.append('circle').attr('cx', px).attr('cy', py).attr('r', 8.5).attr('fill', '#7e57c2').attr('opacity', .18);
  icon(px, py, 'M-5 -1a5 5 0 0 1 9 -2 M5 1a5 5 0 0 1 -9 2 M4 -6v3h-3 M-4 6v-3h3', { stroke: '#6e36f5', width: 1.4 });
}
function collapseButton(px, py) {
  svg.append('rect').attr('x', px).attr('y', py).attr('width', 30).attr('height', 20).attr('rx', 3)
    .attr('fill', '#fff').attr('fill-opacity', .85).attr('stroke', '#e0e3eb');
  icon(px + 15, py + 10, 'M-4 -2l4 3l4 -3', { width: 1.3 });
}
svg.append('rect').attr('x', 65).attr('y', 115).attr('width', 39).attr('height', 20).attr('rx', 3).attr('fill', '#fff').attr('stroke', '#e0e3eb');
icon(77, 125, 'M-4 -2l4 3l4 -3', { width: 1.3 });
label('12', 93, 125, 13, 'middle', '#131722');
syncIcon(128, 126);
collapseButton(65, 587); syncIcon(119, 597);
collapseButton(65, 680); syncIcon(119, 690);
collapseButton(65, 781); syncIcon(119, 790);

// ---- wave tool widget
svg.append('rect').attr('x', 540).attr('y', 100).attr('width', 100).attr('height', 37).attr('rx', 5)
  .attr('fill', '#fff').style('filter', 'drop-shadow(0 1px 3px rgba(0,0,0,.25))');
svg.append('g').selectAll('circle').data([0, 1, 2, 3, 4, 5]).join('circle')
  .attr('cx', d => 549 + (d % 2) * 5).attr('cy', d => 112 + Math.floor(d / 2) * 5.5).attr('r', 1).attr('fill', '#c5c8d0');
[[570, '1', '5'], [607, 'A', 'C']].forEach(([px, a, b]) => {
  icon(px, 120, 'M2 3l5 -6l7 8l6 -6l5 -2', { width: .9 });
  [[2, 3], [7, -3], [14, 5], [20, -1], [25, -3]].forEach(p =>
    svg.append('circle').attr('cx', px + p[0]).attr('cy', 120 + p[1]).attr('r', 2).attr('fill', '#fff').attr('stroke', '#131722').attr('stroke-width', .9));
  label(a, px + 9, 109, 8, 'middle', '#131722', 700);
  label(b, px + 23, 109, 8, 'middle', '#131722', 700);
});

// ---- left toolbar
icon(0, 0, 'M17 113L34 96');
node(17.3, 113.3); node(34.3, 96);
icon(0, 0, 'M15 133.5H37 M15 139.7H34 M15 145.7H37 M18 151.3H37');
node(36.3, 139.7); node(15.3, 151.3);
icon(0, 0, 'M17.3 189.3L20.3 172.3L35.7 186.7L32.3 173.3L17.3 189.3');
[[20.3, 172.3], [32.3, 173.3], [24.3, 179.3], [17.3, 189.3], [35.7, 186.7]].forEach(p => node(p[0], p[1]));
icon(0, 0, 'M20 211.3H37 M17 222.3H37 M20 227.3H37 M24.5 214v6h4.5');
node(17.3, 211.3); node(17.3, 227.3);
icon(0, 0, 'M15 265q2 -10 12 -13l6 6q-4 7 -18 7z M30 253q2 2 4 0l5 -4', { width: 1.1 });
icon(0, 0, 'M19.3 287H33.3 M26.3 287V303 M23.5 303H29', { width: 1.3 });
icon(25.7, 333.3, 'M10.7 0a10.7 10.7 0 1 0 -21.4 0a10.7 10.7 0 1 0 21.4 0 M-4 3q4 4 8 0 M-3 -3v1 M3 -3v1');
icon(26, 382, 'M-10 5l15 -15l5 5l-15 15z M-6 1l2 2 M-3 -2l3 3 M0 -5l2 2 M3 -8l3 3');
icon(26, 421, 'M7 -2a8 8 0 1 0 -16 0a8 8 0 1 0 16 0 M5 4l6 6 M-5 -2h8 M-1 -6v8');
icon(26, 473, 'M-8 8v-9a8 8 0 0 1 16 0v9h-4v-9a4 4 0 0 0 -8 0v9z M-8 4h4 M4 4h4');
icon(26, 511, 'M-9 9l1 -5l10 -10l4 4l-10 10z M2 3h9v7h-9z M4 3v-2a2.5 2.5 0 0 1 5 0v2');
icon(26, 548, 'M-7 -1h14v10h-14z M-4 -1v-4a4 4 0 0 1 8 0 M0 3v2');
icon(26, 587, 'M-11 0q11 -11 22 0q-11 11 -22 0z M3 0a3 3 0 1 0 -6 0a3 3 0 1 0 6 0');
icon(26, 625, 'M-3 3l6 -6 M-1 -5l3 -3a4 4 0 0 1 6 6l-3 3 M1 5l-3 3a4 4 0 0 1 -6 -6l3 -3', { stroke: '#777' });
icon(26, 676, 'M-8 -7h16 M-6 -7l1 16h10l1 -16 M-3 -7v-2h6v2');
[[8, 44, 358], [8, 44, 447], [8, 44, 650]].forEach(l =>
  svg.append('line').attr('x1', l[0]).attr('x2', l[1]).attr('y1', l[2]).attr('y2', l[2]).attr('stroke', '#e8e8e8'));
svg.append('rect').attr('x', 9).attr('y', 1024).attr('width', 34).attr('height', 34).attr('rx', 4).attr('fill', '#2e2e2e');
icon(26, 1041, 'M0 -9l2.7 6h6.3l-5 4.5l1.8 6.5l-5.8 -3.5l-5.8 3.5l1.8 -6.5l-5 -4.5h6.3z', { stroke: '#fff' });

// ---- right toolbar
icon(1058, 67, 'M-9 -11h18v22l-9 -3l-9 3z M-6 -6h12 M-6 -2h12 M-6 2h12');
icon(1058, 111, 'M10 1a10 10 0 1 0 -20 0a10 10 0 1 0 20 0 M0 -5v6h-4 M-10 -10l3 -3 M10 -10l-3 -3');
icon(1058, 158, 'M-12 -2l12 -7l12 7l-12 7z M-12 3l12 7l12 -7');
icon(1058, 204, 'M-11 -10h22v16h-14l-5 5v-5h-3z M-7 -4h14 M-7 0h10');
svg.append('circle').attr('cx', 1068).attr('cy', 193).attr('r', 7.5).attr('fill', '#f23645');
label('1', 1068, 193, 10, 'middle', '#fff');
icon(1058, 773, 'M14 0a14 14 0 1 0 -28 0a14 14 0 1 0 28 0 M8 0a8 8 0 1 0 -16 0a8 8 0 1 0 16 0 M0 0l8 -9');
svg.append('circle').attr('cx', 1058).attr('cy', 773).attr('r', 2).attr('fill', '#131722');
icon(1058, 815, 'M-12 13l8 -10l-4 -3l8 -10l8 10l-4 3l8 10z M-4 3l4 -3l4 3');
icon(1058, 860, 'M-12 -8h24v19h-24z M-12 -2h24 M-6 -12v6 M6 -12v6');
icon(1058, 908, 'M-9 7a1.5 1.5 0 1 0 .1 0 M-11 0a11 11 0 0 1 11 11 M-11 -6a17 17 0 0 1 17 17');
svg.append('rect').attr('x', 1047).attr('y', 888).attr('width', 29).attr('height', 16).attr('rx', 8).attr('fill', '#f23645');
label('99+', 1061, 896, 11, 'middle', '#fff');
icon(1058, 953, 'M-11 7h22 M-8 7v-6a8 8 0 0 1 16 0v6 M-3 7q3 6 6 0');
svg.append('rect').attr('x', 1054).attr('y', 934).attr('width', 22).attr('height', 16).attr('rx', 8).attr('fill', '#f23645');
label('59', 1065, 942, 11, 'middle', '#fff');
svg.append('circle').attr('cx', 1058).attr('cy', 998).attr('r', 17).attr('fill', '#2e2e2e');
svg.append('g').selectAll('rect').data(d3.range(9)).join('rect')
  .attr('x', d => 1049 + (d % 3) * 7).attr('y', d => 989 + Math.floor(d / 3) * 7)
  .attr('width', 5).attr('height', 5).attr('fill', '#fff');
svg.append('line').attr('x1', 1044).attr('x2', 1072).attr('y1', 1028).attr('y2', 1028).attr('stroke', '#e8e8e8');
icon(1058, 1056, 'M14 0a14 14 0 1 0 -28 0a14 14 0 1 0 28 0 M-4 -5a4 4 0 1 1 5 4q-1 1 -1 3 M0 6v.5', { width: 1.2 });

// ---- tooltip over the logo
svg.append('path').attr('d', 'M27 38l6 5h-12z').attr('fill', '#2e2e2e');
svg.append('rect').attr('x', 10).attr('y', 43).attr('width', 211).attr('height', 41).attr('rx', 3).attr('fill', '#2e2e2e');
label('Logged in as MahersahamOfficial', 18, 55, 12.5, 'start', '#fff');
label('Active layout: INtraswing 1D', 18, 73, 12.5, 'start', '#fff');
</script>
</body>
</html>
